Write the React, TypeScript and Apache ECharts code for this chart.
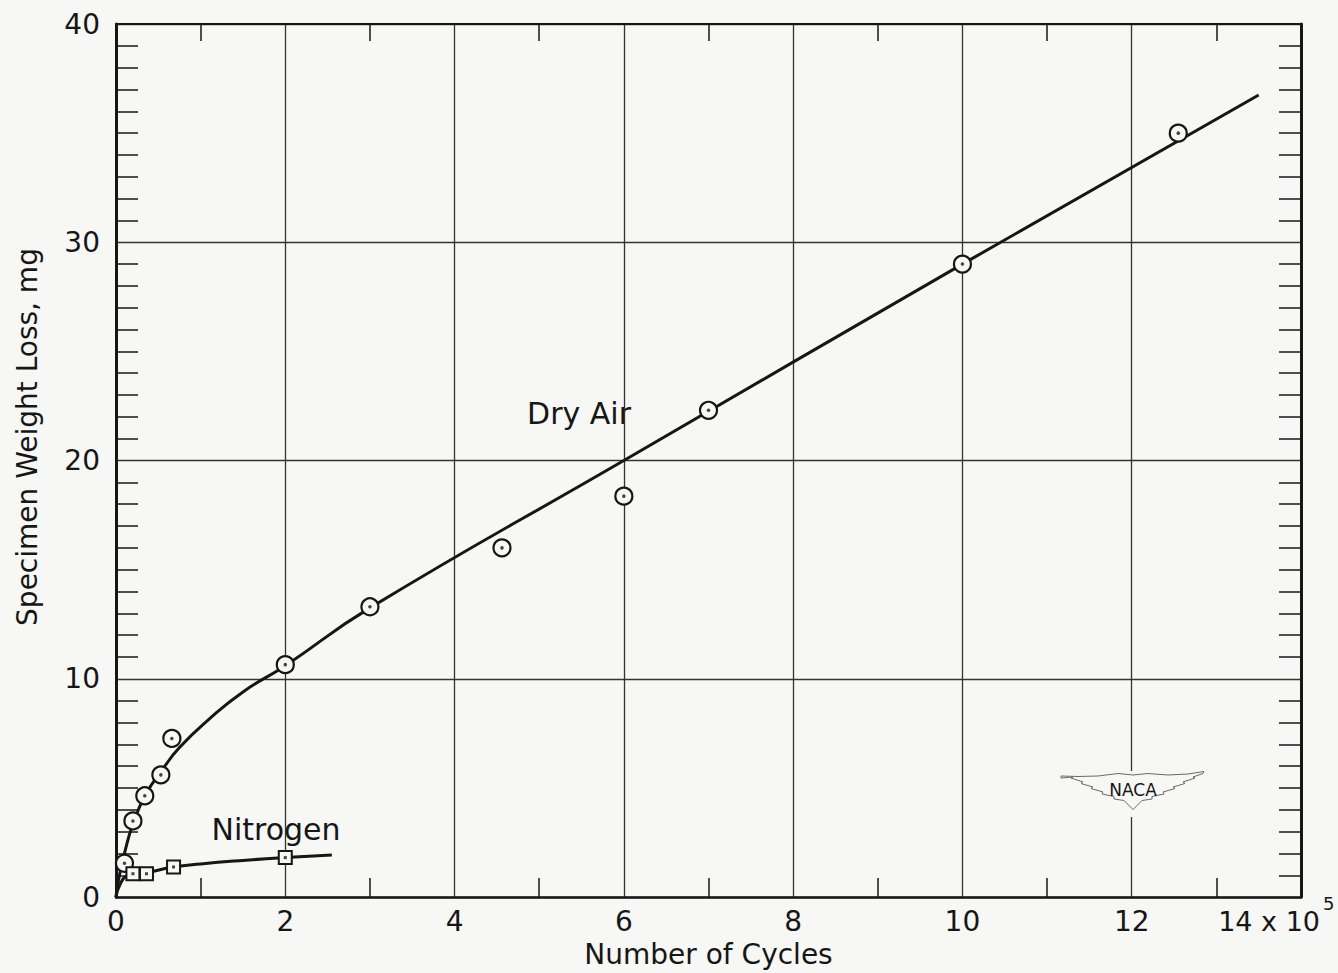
import React, { useEffect, useRef } from "react";
import * as echarts from "echarts";

// ---- data (x in units of 10^5 cycles, y in mg) ----
const DRY_AIR_X = [0.1, 0.2, 0.34, 0.53, 0.66, 2.0, 3.0, 4.56, 6.0, 7.0, 10.0, 12.55];
const DRY_AIR_Y = [1.55, 3.49, 4.64, 5.6, 7.27, 10.65, 13.3, 16.0, 18.37, 22.3, 29.0, 35.0];

const NITROGEN_X = [0.2, 0.36, 0.68, 2.0];
const NITROGEN_Y = [1.07, 1.07, 1.38, 1.81];

// faired curves
const DRY_FIT_X = [0, 0.03, 0.1, 0.2, 0.35, 0.55, 0.75, 1.1, 1.5, 2.0, 3.0, 6.0, 10.0, 13.5];
const DRY_FIT_Y = [0, 0.8, 2.0, 3.35, 4.7, 5.85, 6.85, 8.15, 9.4, 10.6, 13.25, 20.0, 29.0, 36.75];

const N2_FIT_X = [0, 0.05, 0.14, 0.36, 0.68, 1.0, 1.5, 2.0, 2.55];
const N2_FIT_Y = [0, 0.6, 0.98, 1.12, 1.38, 1.52, 1.68, 1.81, 1.93];

const X_TICKS_MAX = 14;
const Y_TICKS_MAX = 40;

const BG = "#f7f7f5";
const INK = "#161616";
const GRID = "#34342c";
const FONT = "'DejaVu Sans', 'Liberation Sans', sans-serif";

const zip = (xs: number[], ys: number[]) => xs.map((x, i) => [x, ys[i]]);

const WING_D =
  "M -72 3 L -55 3.5 L -35 3 L -15 0.5 L 0 2 L 15 0.5 L 35 2 L 55 1 L 71 -1.5 L 70 0.5 " +
  "L 60 4 L 62 5 L 50 9 L 52 10.5 L 40 14 L 42 15.5 L 30 19 L 31 21 L 19 23.5 L 19 26 L 9 27.5 L 0 36.5 " +
  "L -9 27.5 L -19 26 L -19 23.5 L -31 21 L -30 19 L -42 15.5 L -40 14 L -52 10.5 L -50 9 L -62 5 L -60 4 L -72 5 Z";

let registered = false;
function registerWings() {
  if (registered) return;
  echarts.graphic.registerShape("nacaWings", echarts.graphic.extendPath(WING_D, {}) as any);
  registered = true;
}

function buildOption() {
  const labelStyle = { color: INK, fontSize: 28, fontFamily: FONT };
  return {
    animation: false,
    backgroundColor: BG,
    grid: { left: 116, right: 37, top: 24, bottom: 74 },
    xAxis: [
      {
        type: "value",
        min: 0,
        max: X_TICKS_MAX,
        interval: 2,
        position: "bottom",
        axisLine: { show: true, onZero: false, lineStyle: { color: INK, width: 2.5 } },
        axisTick: { show: false, inside: true },
        minorTick: { show: true, splitNumber: 2, length: 19, lineStyle: { color: INK, width: 1.5 } },
        splitLine: { show: true, lineStyle: { color: GRID, width: 1.3 } },
        axisLabel: {
          ...labelStyle,
          margin: 10,
          formatter: (v: number) => (v === X_TICKS_MAX ? "" : String(v)),
        },
        name: "Number of Cycles",
        nameLocation: "middle",
        nameGap: 42,
        nameTextStyle: { ...labelStyle },
      },
      {
        type: "value",
        min: 0,
        max: X_TICKS_MAX,
        interval: 2,
        position: "top",
        axisLine: { show: true, onZero: false, lineStyle: { color: INK, width: 2 } },
        axisTick: { show: false, inside: true },
        minorTick: { show: true, splitNumber: 2, length: 17, lineStyle: { color: INK, width: 1.5 } },
        splitLine: { show: false },
        axisLabel: { show: false },
      },
    ],
    yAxis: [
      {
        type: "value",
        min: 0,
        max: Y_TICKS_MAX,
        interval: 10,
        position: "left",
        axisLine: { show: true, onZero: false, lineStyle: { color: INK, width: 3 } },
        axisTick: { show: false, inside: true },
        minorTick: { show: true, splitNumber: 10, length: 22, lineStyle: { color: INK, width: 1.5 } },
        splitLine: { show: true, lineStyle: { color: GRID, width: 1.3 } },
        axisLabel: { ...labelStyle, margin: 16 },
      },
      {
        type: "value",
        min: 0,
        max: Y_TICKS_MAX,
        interval: 10,
        position: "right",
        axisLine: { show: true, onZero: false, lineStyle: { color: INK, width: 3 } },
        axisTick: { show: false, inside: true },
        minorTick: { show: true, splitNumber: 10, length: 22, lineStyle: { color: INK, width: 1.5 } },
        splitLine: { show: false },
        axisLabel: { show: false },
      },
    ],
    series: [
      {
        name: "Dry Air fit",
        type: "line",
        data: zip(DRY_FIT_X, DRY_FIT_Y),
        smooth: 0.5,
        showSymbol: false,
        symbol: "none",
        lineStyle: { color: INK, width: 3 },
        z: 3,
      },
      {
        name: "Nitrogen fit",
        type: "line",
        data: zip(N2_FIT_X, N2_FIT_Y),
        smooth: 0.5,
        showSymbol: false,
        symbol: "none",
        lineStyle: { color: INK, width: 3 },
        z: 3,
      },
      {
        name: "Dry Air",
        type: "scatter",
        data: zip(DRY_AIR_X, DRY_AIR_Y),
        symbol: "circle",
        symbolSize: 17,
        itemStyle: { color: BG, borderColor: INK, borderWidth: 2.2, opacity: 1 },
        z: 5,
      },
      {
        name: "Dry Air centre",
        type: "scatter",
        data: zip(DRY_AIR_X, DRY_AIR_Y),
        symbol: "circle",
        symbolSize: 3.5,
        itemStyle: { color: INK },
        z: 6,
      },
      {
        name: "Nitrogen",
        type: "scatter",
        data: zip(NITROGEN_X, NITROGEN_Y),
        symbol: "rect",
        symbolSize: 13,
        itemStyle: { color: BG, borderColor: INK, borderWidth: 2, opacity: 1 },
        z: 5,
      },
      {
        name: "Nitrogen centre",
        type: "scatter",
        data: zip(NITROGEN_X, NITROGEN_Y),
        symbol: "rect",
        symbolSize: 3,
        itemStyle: { color: INK },
        z: 6,
      },
    ],
    graphic: [
      {
        type: "text",
        x: 27,
        y: 437,
        rotation: Math.PI / 2,
        style: {
          text: "Specimen Weight Loss, mg",
          fontSize: 28,
          fontFamily: FONT,
          fill: INK,
          align: "center",
          verticalAlign: "middle",
        },
      },
      {
        type: "text",
        x: 579,
        y: 413,
        style: { text: "Dry Air", fontSize: 30, fontFamily: FONT, fill: INK, align: "center", verticalAlign: "middle" },
      },
      {
        type: "text",
        x: 276,
        y: 829,
        style: { text: "Nitrogen", fontSize: 30, fontFamily: FONT, fill: INK, align: "center", verticalAlign: "middle" },
      },
      {
        type: "text",
        x: 1320,
        y: 921,
        style: { text: "14 x 10", fontSize: 27, fontFamily: FONT, fill: INK, align: "right", verticalAlign: "middle" },
      },
      {
        type: "text",
        x: 1323,
        y: 903,
        style: { text: "5", fontSize: 18, fontFamily: FONT, fill: INK, align: "left", verticalAlign: "middle" },
      },
      {
        type: "rect",
        z: 50,
        shape: { x: 1128, y: 771, width: 10, height: 46 },
        style: { fill: BG },
      },
      {
        type: "nacaWings",
        z: 51,
        x: 1133,
        y: 773,
        scaleX: 1,
        scaleY: 1,
        style: { fill: BG, stroke: "#6a6a6a", lineWidth: 1 },
      },
      {
        type: "text",
        z: 52,
        x: 1133,
        y: 790,
        style: { text: "NACA", fontSize: 17, fontFamily: FONT, fill: INK, align: "center", verticalAlign: "middle" },
      },
    ],
  };
}

export default function App() {
  const ref = useRef<HTMLDivElement>(null);
  useEffect(() => {
    registerWings();
    if (!ref.current) return;
    const chart = echarts.init(ref.current, null, { renderer: "svg" });
    chart.setOption(buildOption() as any);
    return () => chart.dispose();
  }, []);
  return (
    <div
      ref={ref}
      style={{ position: "fixed", left: 0, top: 0, width: 1338, height: 973, background: BG }}
    />
  );
}
